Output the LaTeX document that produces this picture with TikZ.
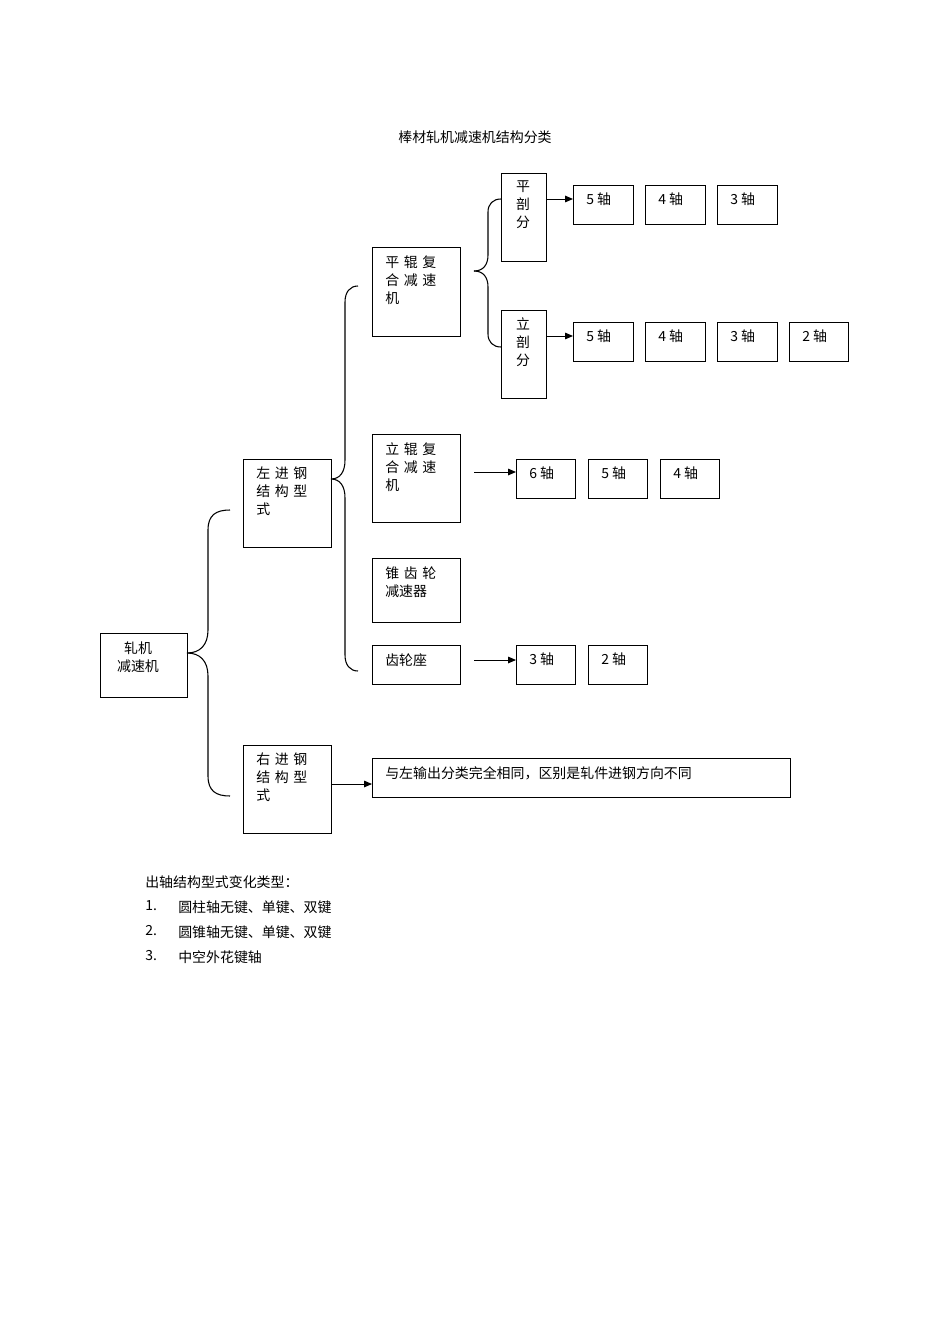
\documentclass[tikz,border=0pt]{standalone}
\usepackage{fontspec}
\setmainfont{Liberation Serif}
\newfontfamily\cjk{Noto Sans CJK SC}[Scale=0.95]
\usetikzlibrary{arrows.meta}
\tikzset{
 bx/.style={draw,line width=0.8pt,inner sep=0pt},
 tx/.style={anchor=north west,inner sep=0pt,align=left,font=\cjk\fontsize{11}{13.5}\selectfont},
 ar/.style={-{Triangle[length=6pt,width=5pt]},line width=0.7pt},
 br/.style={line width=0.8pt}
}
\newcommand{\bbox}[6]{% name x1 y1 x2 y2 text
 \node[bx,minimum width=(#4-#2)*0.75pt,minimum height=(#5-#3)*0.75pt,anchor=north west] (#1) at (#2,#3) {};
 \node[tx] (#1t) at (#2+13,#3+8) {#6};}
\begin{document}
\begin{tikzpicture}[x=0.75pt,y=-0.75pt]
\useasboundingbox (0,0) rectangle (950,1344);
\node[tx,anchor=center] (title) at (475,137) {棒材轧机减速机结构分类};
\node[bx,minimum width=87*0.75pt,minimum height=64*0.75pt,anchor=north west] (root) at (100,633) {};
\node[tx,anchor=center,align=center] (roott) at (138,657) {轧机\\减速机};
\bbox{left}{243}{459}{331}{547}{左\,\,进\,\,钢\\结\,\,构\,\,型\\式}
\bbox{right}{243}{745}{331}{833}{右\,\,进\,\,钢\\结\,\,构\,\,型\\式}
\bbox{ph}{372}{247}{460}{336}{平\,\,辊\,\,复\\合\,\,减\,\,速\\机}
\bbox{lh}{372}{434}{460}{522}{立\,\,辊\,\,复\\合\,\,减\,\,速\\机}
\bbox{zc}{372}{558}{460}{622}{锥\,\,齿\,\,轮\\减速器}
\bbox{cl}{372}{645}{460}{684}{齿轮座}
\node[bx,minimum width=45*0.75pt,minimum height=88*0.75pt,anchor=north west] (pp) at (501,173) {};
\node[tx,anchor=north] (ppt) at (523,180) {平\\剖\\分};
\node[bx,minimum width=45*0.75pt,minimum height=88*0.75pt,anchor=north west] (lp) at (501,310) {};
\node[tx,anchor=north] (lpt) at (523,317) {立\\剖\\分};
\bbox{a1}{573}{185}{633}{224}{5 轴}
\bbox{a2}{645}{185}{705}{224}{4 轴}
\bbox{a3}{717}{185}{777}{224}{3 轴}
\bbox{b1}{573}{322}{633}{361}{5 轴}
\bbox{b2}{645}{322}{705}{361}{4 轴}
\bbox{b3}{717}{322}{777}{361}{3 轴}
\bbox{b4}{789}{322}{848}{361}{2 轴}
\bbox{c1}{516}{459}{575}{498}{6 轴}
\bbox{c2}{588}{459}{647}{498}{5 轴}
\bbox{c3}{660}{459}{719}{498}{4 轴}
\bbox{d1}{516}{645}{575}{684}{3 轴}
\bbox{d2}{588}{645}{647}{684}{2 轴}
\bbox{big}{372}{758}{790}{797}{与左输出分类完全相同，区别是轧件进钢方向不同}
% arrows
\draw[ar] (546,199) -- (a1.west|-0,199);
\draw[ar] (546,336) -- (b1.west|-0,336);
\coordinate (s1) at (474,472); \draw[ar] (s1) -- (c1.west|-s1);
\coordinate (s2) at (474,660); \draw[ar] (s2) -- (d1.west|-s2);
\draw[ar] (331,784) -- (big.west|-0,784);
% braces
\draw[br] (187,653) .. controls (200,653) and (208,645) .. (208,630) -- (208,530) .. controls (208,515) and (216,510) .. (230,510);
\draw[br] (187,653) .. controls (200,653) and (208,661) .. (208,676) -- (208,776) .. controls (208,791) and (216,796) .. (230,796);
\draw[br] (331,479) .. controls (340,479) and (345,472) .. (345,460) -- (345,302) .. controls (345,292) and (350,286) .. (358,286);
\draw[br] (331,479) .. controls (340,479) and (345,486) .. (345,498) -- (345,655) .. controls (345,665) and (350,671) .. (358,671);
\draw[br] (474,271) .. controls (483,271) and (488,265) .. (488,255) -- (488,212) .. controls (488,204) and (493,199) .. (501,199);
\draw[br] (474,271) .. controls (483,271) and (488,277) .. (488,287) -- (488,334) .. controls (488,342) and (493,347) .. (501,347);
% notes
\node[tx] (n0) at (145,875) {出轴结构型式变化类型：};
\node[tx] (n1) at (145,900) {1.};
\node[tx] (n1t) at (178,900) {圆柱轴无键、单键、双键};
\node[tx] (n2) at (145,925) {2.};
\node[tx] (n2t) at (178,925) {圆锥轴无键、单键、双键};
\node[tx] (n3) at (145,950) {3.};
\node[tx] (n3t) at (178,950) {中空外花键轴};
\end{tikzpicture}
\end{document}
